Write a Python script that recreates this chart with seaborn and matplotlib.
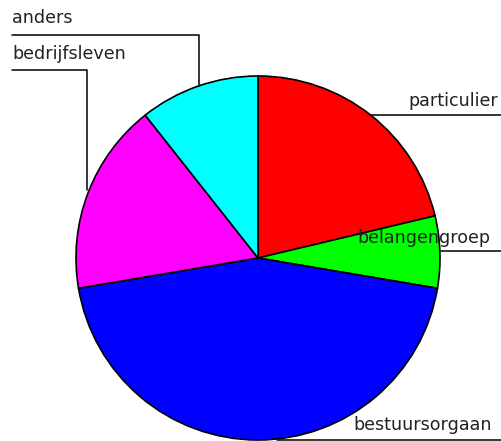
import matplotlib
matplotlib.use("Agg")
import matplotlib.pyplot as plt
import seaborn as sns

# data
categories = ['particulier', 'belangengroep', 'bestuursorgaan', 'bedrijfsleven', 'anders']
counts = [10, 3, 21, 8, 5]
colors = ['#ff0000', '#00ff00', '#0000ff', '#ff00ff', '#00ffff']

# label layout in pixel coords (x, y, ha) and leader line points
label_pos = {
    'anders': (12, 18, 'left'),
    'bedrijfsleven': (12, 54, 'left'),
    'particulier': (498, 101, 'right'),
    'belangengroep': (490, 238, 'right'),
    'bestuursorgaan': (492, 425, 'right'),
}
leaders = {
    'anders': [(12, 35), (199, 35), (199, 86)],
    'bedrijfsleven': [(12, 70), (87, 70), (87, 190)],
    'particulier': [(370, 115), (502, 115)],
    'belangengroep': [(441, 251), (502, 251)],
    'bestuursorgaan': [(277, 440), (502, 440)],
}

W, H = 502, 441
sns.set_style("white")
plt.rcParams['font.family'] = ['DejaVu Sans']

fig = plt.figure(figsize=(W / 100, H / 100), dpi=100)
ax = fig.add_axes([0, 0, 1, 1])

ax.pie(counts, colors=colors, startangle=90, counterclock=False,
       center=(258, H - 258), radius=182,
       wedgeprops=dict(edgecolor='black', linewidth=1.2))

for name in categories:
    x, y, ha = label_pos[name]
    ax.text(x, H - y, name, ha=ha, va='center', fontsize=12.6, color='#222222')
    pts = leaders[name]
    ax.plot([p[0] for p in pts], [H - p[1] for p in pts], color='black', lw=1.1)

ax.set_xlim(0, W)
ax.set_ylim(0, H)
ax.set_aspect('equal')
ax.axis('off')

plt.savefig('out.png', dpi=100)
